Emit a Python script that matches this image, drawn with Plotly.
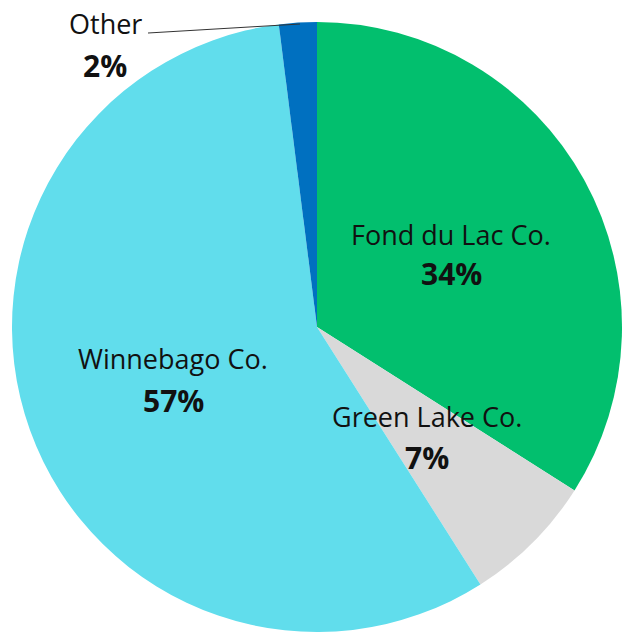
import plotly.graph_objects as go

# Share of total by county
counties = ["Fond du Lac Co.", "Green Lake Co.", "Winnebago Co.", "Other"]
shares = [34, 7, 57, 2]
colors = ["#02BF6E", "#D9D9D9", "#61DDEC", "#0070C0"]

W, H = 623, 633
FONT = "Open Sans"


def px(x):
    return x / W


def py(y):
    return 1 - y / H


fig = go.Figure(
    go.Pie(
        labels=counties,
        values=shares,
        sort=False,
        direction="clockwise",
        rotation=0,
        marker=dict(colors=colors, line=dict(width=0)),
        textinfo="none",
        hoverinfo="label+percent",
        domain=dict(x=[px(12), px(622)], y=[py(632), py(22)]),
        showlegend=False,
    )
)

total = sum(shares)
# label anchor centres (name line, percent line)
label_pos = {
    "Fond du Lac Co.": (451, 234, 273),
    "Green Lake Co.": (427, 416, 457),
    "Winnebago Co.": (173, 358, 400),
    "Other": (105, 23, 65),
}

annotations = []
for name, val in zip(counties, shares):
    cx, y1, y2 = label_pos[name]
    pct = f"{round(100 * val / total)}%"
    annotations.append(dict(
        x=px(cx), y=py(y1), xref="paper", yref="paper", text=name,
        showarrow=False, xanchor="center", yanchor="middle",
        font=dict(family=FONT, size=27, color="#111111"),
    ))
    annotations.append(dict(
        x=px(cx), y=py(y2), xref="paper", yref="paper", text=f"<b>{pct}</b>",
        showarrow=False, xanchor="center", yanchor="middle",
        font=dict(family=FONT, size=30, color="#111111"),
    ))

fig.update_layout(
    width=W,
    height=H,
    margin=dict(l=0, r=0, t=0, b=0),
    paper_bgcolor="white",
    plot_bgcolor="white",
    annotations=annotations,
    shapes=[dict(
        type="line", xref="paper", yref="paper",
        x0=px(148), y0=py(33), x1=px(300), y1=py(24),
        line=dict(color="#333333", width=1),
    )],
)

fig.write_html("out.html")
